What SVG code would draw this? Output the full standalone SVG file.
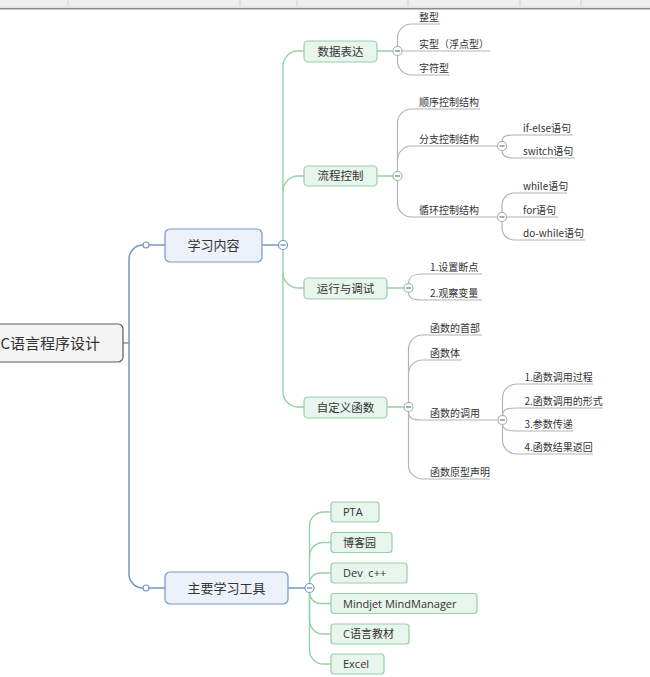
<svg xmlns="http://www.w3.org/2000/svg" width="650" height="677" viewBox="0 0 650 677">
<style>
text{font-family:"Noto Sans CJK SC","Noto Sans",sans-serif;fill:#333}
.t1{font-size:15px}
.t2{font-size:13px;text-anchor:middle}
.t3{font-size:11.5px;text-anchor:middle}
.t4{font-size:10px}
.t5{font-size:11px;white-space:pre;font-family:"Open Sans","Noto Sans CJK SC",sans-serif}
.box0{fill:#f4f4f4;stroke:#5a5a5a;stroke-width:1.2}
.boxb{fill:#edf2fa;stroke:#7398c9;stroke-width:1.2}
.boxg{fill:#e7f5ec;stroke:#95cfa7;stroke-width:1.2}
.lb{fill:none;stroke:#7398c9;stroke-width:1.5}
.lg{fill:none;stroke:#97d1a8;stroke-width:1.4}
.lc{fill:none;stroke:#b3b3b3;stroke-width:1.2}
.cb{fill:#fff;stroke:#7398c9;stroke-width:1.2}
.cg{fill:#fff;stroke:#8fb89a;stroke-width:1.1}
.cc{fill:#fff;stroke:#a8a8a8;stroke-width:1.1}
.mb{stroke:#5a7fb0;stroke-width:1.2}
.mg{stroke:#666;stroke-width:1.1}
</style>
<g id="toolbar">
<rect x="0" y="0" width="650" height="8" fill="#efefef"/>
<line x1="0" y1="7" x2="650" y2="7" stroke="#dcdcdc" stroke-width="1"/>
<line x1="0" y1="8.8" x2="650" y2="8.8" stroke="#8a8a8a" stroke-width="1.6"/>
<g stroke="#d0d0d0" stroke-width="1">
<line x1="68" y1="0" x2="68" y2="6"/><line x1="240" y1="0" x2="240" y2="6"/><line x1="297" y1="0" x2="297" y2="6"/>
<line x1="408" y1="0" x2="408" y2="6"/><line x1="520" y1="0" x2="520" y2="6"/><line x1="581" y1="0" x2="581" y2="6"/>
</g>
</g>
<g id="connectors">
<path class="lb" d="M123 343 H129"/>
<path class="lb" d="M143 245 A14 14 0 0 0 129 259 V574 A14 14 0 0 0 143 588"/>
<path class="lb" d="M149 245 H165 M149 588 H165 M262 245 H278.5 M288 588 H305"/>
<path class="lg" d="M283 240.5 V66 A15 15 0 0 1 298 51 H304"/>
<path class="lg" d="M283 191 A15 15 0 0 1 298 176 H304"/>
<path class="lg" d="M283 249.5 V392 A15 15 0 0 0 298 407 H304"/>
<path class="lg" d="M283 273 A15 15 0 0 0 298 288 H304"/>
<path class="lg" d="M377 51 H393 M377 176 H393 M387 288 H404 M387 407 H404"/>
<path class="lg" d="M309.5 583.5 V526 A14 14 0 0 1 323.5 512 H331"/>
<path class="lg" d="M309.5 556.5 A14 14 0 0 1 323.5 542.5 H331"/>
<path class="lg" d="M309.5 583.5 A10.5 10.5 0 0 1 320 573 H331"/>
<path class="lg" d="M309.5 592.5 A11 11 0 0 0 320.5 603.5 H331"/>
<path class="lg" d="M309.5 592.5 V620 A14 14 0 0 0 323.5 634 H331"/>
<path class="lg" d="M309.5 592.5 V650 A14 14 0 0 0 323.5 664 H331"/>
<path class="lc" d="M397.5 46.5 V38 A14 14 0 0 1 411.5 24 H440"/>
<path class="lc" d="M402 51 H490"/>
<path class="lc" d="M397.5 55.5 V61 A14 14 0 0 0 411.5 75 H450"/>
<path class="lc" d="M397.5 171.5 V123 A14 14 0 0 1 411.5 109 H480"/>
<path class="lc" d="M397.5 160 A14 14 0 0 1 411.5 146 H497.5"/>
<path class="lc" d="M397.5 180.5 V203 A14 14 0 0 0 411.5 217 H497.5"/>
<path class="lc" d="M502 141.5 C502 136 506 135 514 135 H573"/>
<path class="lc" d="M502 150.5 C502 156 506 158 514 158 H575"/>
<path class="lc" d="M502 212.5 V205 A12 12 0 0 1 514 193 H567"/>
<path class="lc" d="M506.5 217 H558"/>
<path class="lc" d="M502 221.5 V228 A12 12 0 0 0 514 240 H585"/>
<path class="lc" d="M408.5 283.5 C408.5 277 412 274 422 274 H482"/>
<path class="lc" d="M408.5 292.5 C408.5 298 412 300 422 300 H482"/>
<path class="lc" d="M408.5 402.5 V349 A14 14 0 0 1 422.5 335 H482"/>
<path class="lc" d="M408.5 374 A14 14 0 0 1 422.5 360 H462"/>
<path class="lc" d="M408.5 411.5 C408.5 418 412 420 422 420 H498"/>
<path class="lc" d="M408.5 411.5 V465 A14 14 0 0 0 422.5 479 H490"/>
<path class="lc" d="M502.5 415.5 V398 A14 14 0 0 1 516.5 384 H593"/>
<path class="lc" d="M502.5 415.5 C502.5 410 506 408 516 408 H603"/>
<path class="lc" d="M502.5 424.5 C502.5 429 506 431 516 431 H573"/>
<path class="lc" d="M502.5 424.5 V440 A14 14 0 0 0 516.5 454 H593"/>
<circle class="cb" cx="146" cy="245" r="3"/>
<circle class="cb" cx="146" cy="588" r="3"/>
<circle class="cb" cx="283" cy="245" r="4.5"/><path class="mb" d="M280.5 245 H285.5"/>
<circle class="cb" cx="309.5" cy="588" r="4.5"/><path class="mb" d="M307 588 H312"/>
<circle class="cg" cx="397.5" cy="51" r="4.5"/><path class="mg" d="M395 51 H400"/>
<circle class="cg" cx="397.5" cy="176" r="4.5"/><path class="mg" d="M395 176 H400"/>
<circle class="cg" cx="408.5" cy="288" r="4.5"/><path class="mg" d="M406 288 H411"/>
<circle class="cg" cx="408.5" cy="407" r="4.5"/><path class="mg" d="M406 407 H411"/>
<circle class="cc" cx="502" cy="146" r="4.5"/><path class="mg" d="M499.5 146 H504.5"/>
<circle class="cc" cx="502" cy="217" r="4.5"/><path class="mg" d="M499.5 217 H504.5"/>
<circle class="cc" cx="502.5" cy="420" r="4.5"/><path class="mg" d="M500 420 H505"/>
</g>
<g id="root"><rect class="box0" x="-6" y="324" width="129" height="38" rx="5"/><text class="t1" x="0.5" y="348.5">C语言程序设计</text></g>
<g id="n-xxnr"><rect class="boxb" x="165" y="229" width="97" height="33" rx="5"/><text class="t2" x="213.5" y="249.5">学习内容</text></g>
<g id="n-zygj"><rect class="boxb" x="165" y="572" width="123" height="32" rx="5"/><text class="t2" x="226.5" y="592.5">主要学习工具</text></g>
<g id="n-sjbd"><rect class="boxg" x="304" y="41" width="73" height="21" rx="4"/><text class="t3" x="340.5" y="55.5">数据表达</text></g>
<g id="n-lckz"><rect class="boxg" x="304" y="166" width="73" height="20" rx="4"/><text class="t3" x="340.5" y="180">流程控制</text></g>
<g id="n-yxts"><rect class="boxg" x="304" y="278" width="83" height="21" rx="4"/><text class="t3" x="345.5" y="292.5">运行与调试</text></g>
<g id="n-zdyhs"><rect class="boxg" x="304" y="397" width="83" height="21" rx="4"/><text class="t3" x="345.5" y="411.5">自定义函数</text></g>
<g id="leaves-sjbd">
<text class="t4" x="419" y="20.5">整型</text>
<text class="t4" x="419" y="47.5">实型（浮点型）</text>
<text class="t4" x="419" y="71.5">字符型</text>
</g>
<g id="leaves-lckz">
<text class="t4" x="419" y="105.5">顺序控制结构</text>
<text class="t4" x="419" y="142.5">分支控制结构</text>
<text class="t4" x="419" y="213.5">循环控制结构</text>
<text class="t4" x="523" y="131.5">if-else语句</text>
<text class="t4" x="523" y="154.5">switch语句</text>
<text class="t4" x="523" y="189.5">while语句</text>
<text class="t4" x="523" y="213.5">for语句</text>
<text class="t4" x="523" y="236.5">do-while语句</text>
</g>
<g id="leaves-yxts">
<text class="t4" x="430" y="270.5">1.设置断点</text>
<text class="t4" x="430" y="296.5">2.观察变量</text>
</g>
<g id="leaves-zdyhs">
<text class="t4" x="430" y="331.5">函数的首部</text>
<text class="t4" x="430" y="356.5">函数体</text>
<text class="t4" x="430" y="416.5">函数的调用</text>
<text class="t4" x="430" y="475.5">函数原型声明</text>
<text class="t4" x="524.5" y="380.5">1.函数调用过程</text>
<text class="t4" x="524.5" y="404.5">2.函数调用的形式</text>
<text class="t4" x="524.5" y="427.5">3.参数传递</text>
<text class="t4" x="524.5" y="450.5">4.函数结果返回</text>
</g>
<g id="n-pta"><rect class="boxg" x="331" y="502" width="48" height="20" rx="3"/><text class="t5" x="343" y="516">PTA</text></g>
<g id="n-bky"><rect class="boxg" x="331" y="532.5" width="61" height="20" rx="3"/><text class="t5" x="343" y="546.5">博客园</text></g>
<g id="n-dev"><rect class="boxg" x="331" y="563" width="76" height="20" rx="3"/><text class="t5" x="343" y="577" xml:space="preserve">Dev  c++</text></g>
<g id="n-mm"><rect class="boxg" x="331" y="593.5" width="146" height="20" rx="3"/><text class="t5" x="343" y="607.5">Mindjet MindManager</text></g>
<g id="n-jc"><rect class="boxg" x="331" y="624" width="78" height="20" rx="3"/><text class="t5" x="343" y="638">C语言教材</text></g>
<g id="n-excel"><rect class="boxg" x="331" y="654" width="53" height="20" rx="3"/><text class="t5" x="343" y="668">Excel</text></g>
</svg>
